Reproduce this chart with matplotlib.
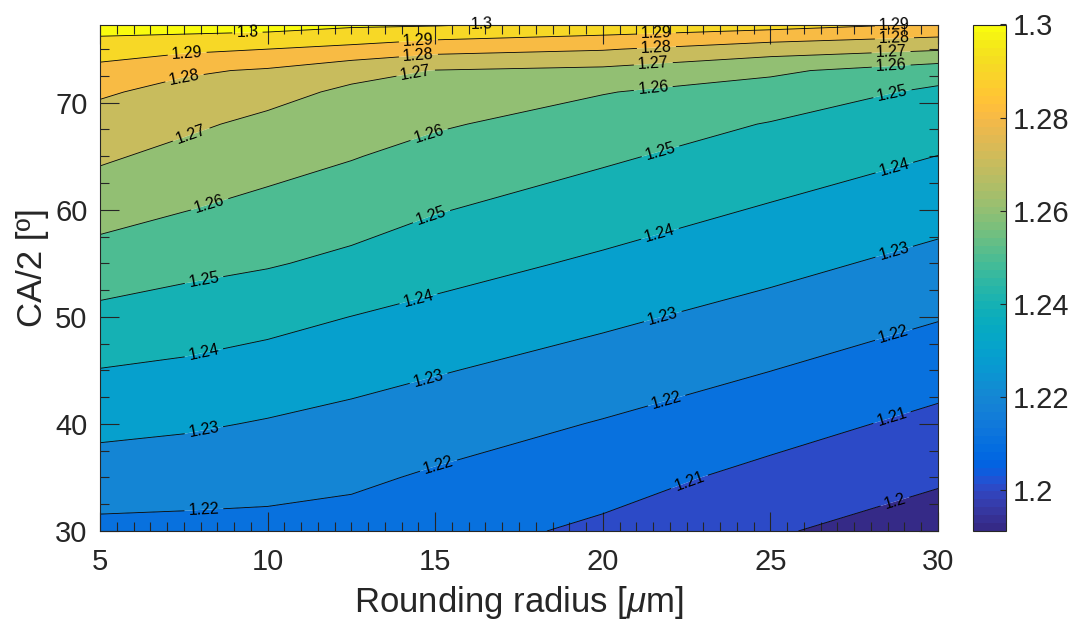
import numpy as np
import matplotlib
matplotlib.use("Agg")
import matplotlib.pyplot as plt
from matplotlib.colors import ListedColormap, Normalize
from matplotlib.cm import ScalarMappable
from matplotlib.ticker import MultipleLocator

# ratio map over rounding radius (columns) and CA/2 (rows)
radius = [5, 7.5, 10, 12.5, 15, 20, 25, 30]
half_ca = [30, 35, 40, 45, 50, 55, 60, 65, 68, 71, 73, 75, 77.3]
ratio = [
    [1.2176, 1.2174, 1.2172, 1.2163, 1.2136, 1.2082, 1.2010, 1.1950],
    [1.2252, 1.2243, 1.2233, 1.2217, 1.2188, 1.2138, 1.2073, 1.2013],
    [1.2326, 1.2313, 1.2293, 1.2272, 1.2246, 1.2194, 1.2138, 1.2075],
    [1.2397, 1.2382, 1.2359, 1.2332, 1.2307, 1.2256, 1.2201, 1.2140],
    [1.2475, 1.2454, 1.2430, 1.2399, 1.2372, 1.2319, 1.2265, 1.2206],
    [1.2557, 1.2528, 1.2508, 1.2478, 1.2439, 1.2384, 1.2329, 1.2271],
    [1.2637, 1.2603, 1.2572, 1.2544, 1.2506, 1.2449, 1.2391, 1.2335],
    [1.2714, 1.2673, 1.2637, 1.2605, 1.2570, 1.2514, 1.2456, 1.2399],
    [1.2760, 1.2719, 1.2676, 1.2643, 1.2610, 1.2558, 1.2495, 1.2440],
    [1.2812, 1.2770, 1.2733, 1.2681, 1.2662, 1.2604, 1.2560, 1.2481],
    [1.2871, 1.2814, 1.2789, 1.2733, 1.2697, 1.2678, 1.2617, 1.2546],
    [1.2945, 1.2922, 1.2900, 1.2874, 1.2833, 1.2807, 1.2745, 1.2710],
    [1.3050, 1.3050, 1.3044, 1.3018, 1.3011, 1.2971, 1.2942, 1.2893],
]
levels = [1.20, 1.21, 1.22, 1.23, 1.24, 1.25, 1.26, 1.27, 1.28, 1.29, 1.30]
cbar_ticks = [1.20, 1.22, 1.24, 1.26, 1.28, 1.30]

# where the contour labels go (radius, CA/2)
label_pos = [
    (9.4, 76.5), (16.5, 77.3),
    (7.6, 74.6), (14.5, 75.7), (21.6, 76.5), (28.7, 77.3),
    (7.5, 72.7), (14.5, 74.4), (21.6, 75.2), (28.7, 76.0),
    (7.7, 67.2), (14.4, 73.1), (21.5, 74.0), (28.6, 74.7),
    (8.3, 60.2), (14.8, 67.2), (21.5, 71.5), (28.6, 73.7),
    (8.1, 53.5), (14.9, 59.3), (21.7, 65.7), (28.6, 71.4),
    (8.1, 46.6), (14.5, 51.7), (21.7, 57.8), (28.7, 63.9),
    (8.1, 39.4), (14.8, 44.3), (21.8, 49.9), (28.7, 56.0),
    (8.1, 31.9), (15.1, 36.1), (21.9, 42.2), (28.7, 48.1),
    (22.6, 34.5), (28.6, 40.9),
    (28.7, 32.9),
]

# parula, 64 entries
parula = [
    (0.2081, 0.1663, 0.5292), (0.2116, 0.1898, 0.5777), (0.2123, 0.2138, 0.6270), (0.2081, 0.2386, 0.6771),
    (0.1959, 0.2645, 0.7279), (0.1707, 0.2919, 0.7792), (0.1253, 0.3242, 0.8303), (0.0591, 0.3598, 0.8683),
    (0.0117, 0.3875, 0.8820), (0.0060, 0.4086, 0.8828), (0.0165, 0.4266, 0.8786), (0.0329, 0.4430, 0.8720),
    (0.0498, 0.4586, 0.8641), (0.0629, 0.4737, 0.8554), (0.0723, 0.4887, 0.8467), (0.0779, 0.5040, 0.8384),
    (0.0793, 0.5200, 0.8312), (0.0749, 0.5375, 0.8263), (0.0641, 0.5570, 0.8240), (0.0488, 0.5772, 0.8228),
    (0.0343, 0.5966, 0.8199), (0.0265, 0.6137, 0.8135), (0.0239, 0.6287, 0.8038), (0.0231, 0.6418, 0.7913),
    (0.0228, 0.6535, 0.7768), (0.0267, 0.6642, 0.7607), (0.0384, 0.6743, 0.7436), (0.0590, 0.6838, 0.7254),
    (0.0843, 0.6928, 0.7062), (0.1133, 0.7015, 0.6859), (0.1453, 0.7098, 0.6646), (0.1801, 0.7177, 0.6424),
    (0.2178, 0.7250, 0.6193), (0.2586, 0.7317, 0.5954), (0.3022, 0.7376, 0.5712), (0.3482, 0.7424, 0.5473),
    (0.3953, 0.7459, 0.5244), (0.4420, 0.7481, 0.5033), (0.4871, 0.7491, 0.4840), (0.5300, 0.7491, 0.4661),
    (0.5709, 0.7485, 0.4494), (0.6099, 0.7473, 0.4337), (0.6473, 0.7456, 0.4188), (0.6834, 0.7435, 0.4044),
    (0.7184, 0.7411, 0.3905), (0.7525, 0.7384, 0.3768), (0.7858, 0.7356, 0.3633), (0.8185, 0.7327, 0.3498),
    (0.8507, 0.7299, 0.3360), (0.8824, 0.7274, 0.3217), (0.9139, 0.7258, 0.3063), (0.9450, 0.7261, 0.2886),
    (0.9739, 0.7314, 0.2666), (0.9938, 0.7455, 0.2403), (0.9990, 0.7653, 0.2164), (0.9955, 0.7861, 0.1967),
    (0.9880, 0.8066, 0.1794), (0.9789, 0.8271, 0.1633), (0.9697, 0.8481, 0.1475), (0.9626, 0.8705, 0.1309),
    (0.9589, 0.8949, 0.1132), (0.9598, 0.9218, 0.0948), (0.9661, 0.9514, 0.0755), (0.9763, 0.9831, 0.0538),
]

plt.rcParams['font.family'] = 'Liberation Sans'
plt.rcParams['mathtext.fontset'] = 'custom'
plt.rcParams['mathtext.rm'] = 'Liberation Sans'
plt.rcParams['mathtext.it'] = 'Liberation Sans:italic'
ink = '#262626'

cmap = ListedColormap(parula)
norm = Normalize(1.1912, 1.30)

X, Y = np.meshgrid(radius, half_ca)
Z = np.array(ratio)

fig = plt.figure(figsize=(10.78, 6.25), dpi=100)
ax = fig.add_axes([100 / 1078, 94 / 625, 838 / 1078, 506.5 / 625])

# each filled band takes the colour of its lower level
bounds = [1.15] + levels + [1.35]
band_cols = [cmap(0.0)] + [cmap(norm(v)) for v in levels]
ax.contourf(X, Y, Z, levels=bounds, colors=band_cols, antialiased=True)
cs = ax.contour(X, Y, Z, levels=levels, colors='k', linewidths=0.6)
lbls = ax.clabel(cs, manual=label_pos, inline=True, fmt='%g', fontsize=11.5, inline_spacing=4)
for t in lbls:
    t.set_clip_on(False)

ax.set_xlim(5, 30)
ax.set_ylim(30, 77.3)
ax.set_xticks([5, 10, 15, 20, 25, 30])
ax.set_yticks([30, 40, 50, 60, 70])
ax.xaxis.set_minor_locator(MultipleLocator(0.5))
ax.yaxis.set_minor_locator(MultipleLocator(2.5))
ax.tick_params(which='both', direction='in', top=True, right=True,
               colors=ink, width=0.8, labelsize=21)
ax.tick_params(which='major', length=14)
ax.tick_params(which='minor', length=6.5)
ax.tick_params(axis='x', pad=12)
ax.tick_params(axis='y', pad=9)
for sp in ax.spines.values():
    sp.set_color(ink)
    sp.set_linewidth(0.8)
ax.set_xlabel('Rounding radius [$\\mu$m]', fontsize=25, color=ink)
ax.set_ylabel('CA/2 [º]', fontsize=25, color=ink)
ax.xaxis.set_label_coords(0.5, -0.104)
ax.yaxis.set_label_coords(-0.061, 0.52)

cax = fig.add_axes([973 / 1078, 94 / 625, 33 / 1078, 506.5 / 625])
sm = ScalarMappable(norm=norm, cmap=cmap)
cb = fig.colorbar(sm, cax=cax, ticks=cbar_ticks)
cb.ax.set_yticklabels([f'{t:g}' for t in cbar_ticks])
cb.ax.tick_params(direction='in', length=4, width=0.8, colors=ink, labelsize=21, pad=5)
cb.outline.set_edgecolor(ink)
cb.outline.set_linewidth(0.8)

fig.savefig('out.png', dpi=100)
